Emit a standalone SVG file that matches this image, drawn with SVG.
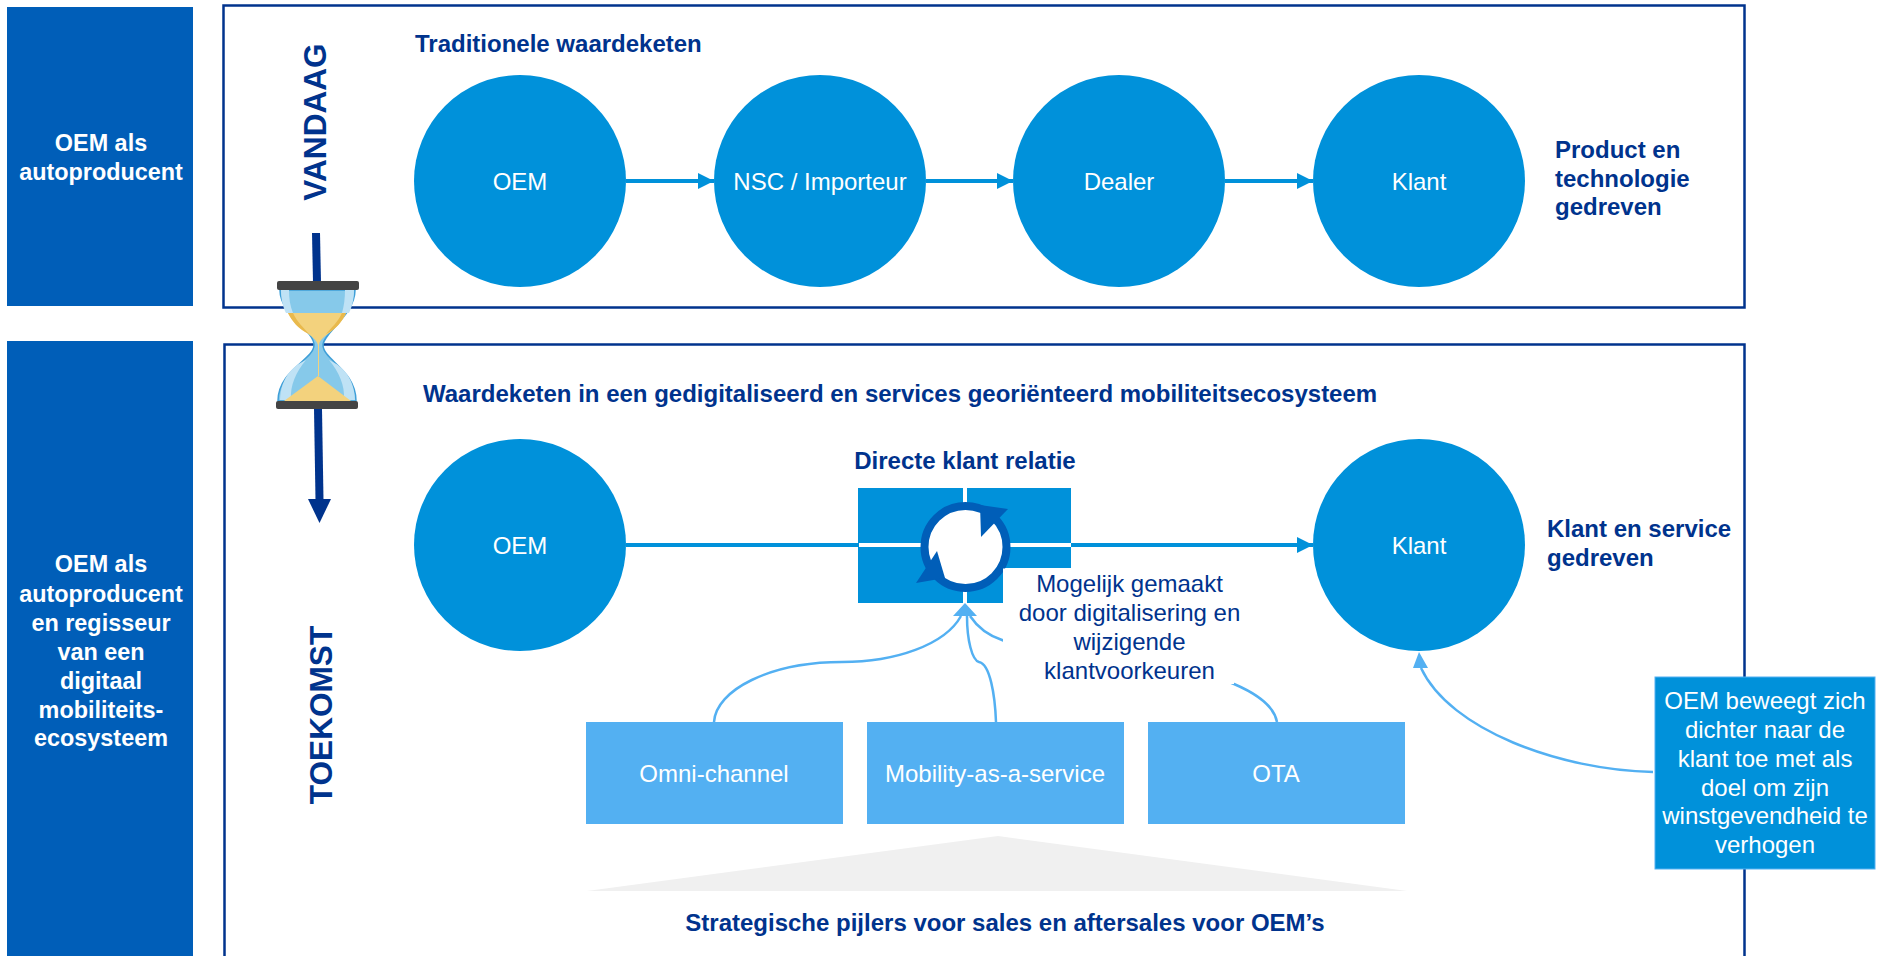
<svg xmlns="http://www.w3.org/2000/svg" width="1879" height="956" viewBox="0 0 1879 956">
<defs>
<marker id="a1" markerUnits="userSpaceOnUse" markerWidth="16" markerHeight="16" refX="16" refY="8" orient="auto"><path d="M0 0L16 8L0 16Z" fill="#0091da"/></marker>
</defs>
<style>
text{font-family:"Liberation Sans",Arial,sans-serif}
.h{fill:#00338d;font-weight:bold;font-size:24px}
.w{fill:#fff;font-size:24px;text-anchor:middle}
.lb{fill:#fff;font-weight:bold;font-size:23.4px;text-anchor:middle}
.v{fill:#00338d;font-weight:bold;font-size:31.6px;text-anchor:middle}
.c{fill:#0091da}
.p{fill:#53b0f2}
.fr{fill:none;stroke:#00338d;stroke-width:2.5}
.lk{fill:none;stroke:#0091da;stroke-width:4}
.cv{fill:none;stroke:#53b0f2;stroke-width:2.5}
</style>
<rect width="1879" height="956" fill="#fff"/>
<g id="side-today"><rect x="7" y="7" width="186" height="299" fill="#005eb8"/><text class="lb" x="101" y="151">OEM als</text><text class="lb" x="101" y="180">autoproducent</text></g>
<g id="side-future"><rect x="7" y="341" width="186" height="615" fill="#005eb8"/><text class="lb"><tspan x="101" y="572">OEM als</tspan><tspan x="101" y="602">autoproducent</tspan><tspan x="101" y="631">en regisseur</tspan><tspan x="101" y="660">van een</tspan><tspan x="101" y="689">digitaal</tspan><tspan x="101" y="718">mobiliteits-</tspan><tspan x="101" y="746">ecosysteem</tspan></text></g>
<g id="frames"><rect class="fr" x="223.500" y="5.500" width="1521" height="302"/><path class="fr" d="M224.500 960V344.500H1744.500V960"/></g>
<text class="v" transform="translate(326 122) rotate(-90)">VANDAAG</text>
<text class="v" transform="translate(332 715) rotate(-90)">TOEKOMST</text>
<text class="h" x="415" y="52">Traditionele waardeketen</text>
<text class="h" x="423" y="402">Waardeketen in een gedigitaliseerd en services georiënteerd mobiliteitsecosysteem</text>
<text class="h" x="965" y="469" text-anchor="middle">Directe klant relatie</text>
<text class="h"><tspan x="1555" y="158">Product en</tspan><tspan x="1555" y="187">technologie</tspan><tspan x="1555" y="215">gedreven</tspan></text>
<text class="h"><tspan x="1547" y="537">Klant en service</tspan><tspan x="1547" y="566">gedreven</tspan></text>
<g id="connectors">
<path class="lk" d="M626 181H714" marker-end="url(#a1)"/><path class="lk" d="M926 181H1013" marker-end="url(#a1)"/><path class="lk" d="M1225 181H1313" marker-end="url(#a1)"/>
<path class="lk" d="M626 545H1313" marker-end="url(#a1)"/>
<path class="cv" d="M714 722C716 690 770 662 842 662C895 662 945 645 961 616"/>
<path class="cv" d="M996 722C995 695 990 664 979 662C972 660 967 640 967 616"/>
<path class="cv" d="M1277 722C1274 705 1255 693 1234 684C1160 650 1060 665 1002 640C990 636 978 628 970 616"/>
<path d="M965 603L977 616H953Z" fill="#53b0f2"/>
<path class="cv" d="M1653 772C1560 770 1450 730 1421 668"/>
<path d="M1419 652L1428 668H1413Z" fill="#53b0f2"/>
</g>
<g id="n-oem1"><circle class="c" cx="520" cy="181" r="106"/><text class="w" x="520" y="190">OEM</text></g>
<g id="n-nsc"><circle class="c" cx="820" cy="181" r="106"/><text class="w" x="820" y="190">NSC / Importeur</text></g>
<g id="n-dealer"><circle class="c" cx="1119" cy="181" r="106"/><text class="w" x="1119" y="190">Dealer</text></g>
<g id="n-klant1"><circle class="c" cx="1419" cy="181" r="106"/><text class="w" x="1419" y="190">Klant</text></g>
<g id="n-oem2"><circle class="c" cx="520" cy="545" r="106"/><text class="w" x="520" y="554">OEM</text></g>
<g id="n-klant2"><circle class="c" cx="1419" cy="545" r="106"/><text class="w" x="1419" y="554">Klant</text></g>
<g id="n-direct">
<path class="c" d="M858 488H1071V568H1003V603H858Z"/>
<path d="M965 488V603M859 545H1071" stroke="#fff" stroke-width="4" fill="none"/>
<circle cx="965.500" cy="547" r="41" fill="#fff" stroke="#005eb8" stroke-width="8"/>
<path d="M980 505L1008 509L981 537Z" fill="#005eb8"/><path d="M937 551L945 578L916 583Z" fill="#005eb8"/>
</g>
<rect x="1003" y="568.500" width="231" height="115.500" fill="#fff"/>
<text style="fill:#00338d;font-size:24px;text-anchor:middle"><tspan x="1129.500" y="592">Mogelijk gemaakt</tspan><tspan x="1129.500" y="621">door digitalisering en</tspan><tspan x="1129.500" y="650">wijzigende</tspan><tspan x="1129.500" y="679">klantvoorkeuren</tspan></text>
<g id="n-omni"><rect class="p" x="586" y="722" width="257" height="102"/><text class="w" x="714" y="782">Omni-channel</text></g>
<g id="n-maas"><rect class="p" x="867" y="722" width="257" height="102"/><text class="w" x="995" y="782">Mobility-as-a-service</text></g>
<g id="n-ota"><rect class="p" x="1148" y="722" width="257" height="102"/><text class="w" x="1276" y="782">OTA</text></g>
<path d="M587 891L998 836L1407 891Z" fill="#f0f0f0"/>
<text class="h" x="1005" y="931" text-anchor="middle">Strategische pijlers voor sales en aftersales voor OEM’s</text>
<g id="n-note"><rect x="1655" y="677" width="220" height="192" fill="#0091da" stroke="#53b0f2" stroke-width="1"/><text class="w"><tspan x="1765" y="709">OEM beweegt zich</tspan><tspan x="1765" y="738">dichter naar de</tspan><tspan x="1765" y="767">klant toe met als</tspan><tspan x="1765" y="796">doel om zijn</tspan><tspan x="1765" y="824">winstgevendheid te</tspan><tspan x="1765" y="853">verhogen</tspan></text></g>
<g id="hourglass">
<path d="M316 233L317 282" stroke="#00338d" stroke-width="8"/>
<path d="M318 409L319.500 500" stroke="#00338d" stroke-width="8"/><path d="M308 499H331L319.500 523Z" fill="#00338d"/>
<path d="M280 290C280 315 314 330 314 345C314 360 278 370 278 401H356C356 370 323 360 323 345C323 333 355 315 355 290Z" fill="#86c9ea" stroke="#3f9fd8" stroke-width="1.500"/>
<path d="M281 290H289C289 298 290 306 293 313H286C283 307 281 299 281 290ZM354 290H345C345 298 344 306 342 313H349C352 307 354 299 354 290Z" fill="#bfe2f5"/>
<path d="M280 400C281 375 295 365 306 360C296 372 290 385 291 400ZM355 400C354 375 340 365 329 360C339 372 345 385 344 400Z" fill="#bfe2f5"/>
<path d="M288 313H346C338 332 320 335 319 345V376H318V345C316 335 296 330 288 313Z" fill="#f3d27d"/>
<path d="M288 313H293C297 322 304 328 309 334C298 329 292 321 288 313ZM346 313H342C338 322 331 328 326 334C337 329 342 321 346 313Z" fill="#e9b94c"/>
<path d="M318 376L351 401H284Z" fill="#f3d27d"/>
<rect x="277" y="281" width="82" height="9" rx="2" fill="#444"/>
<rect x="276" y="401" width="82" height="8" rx="2" fill="#444"/>
</g>
</svg>
